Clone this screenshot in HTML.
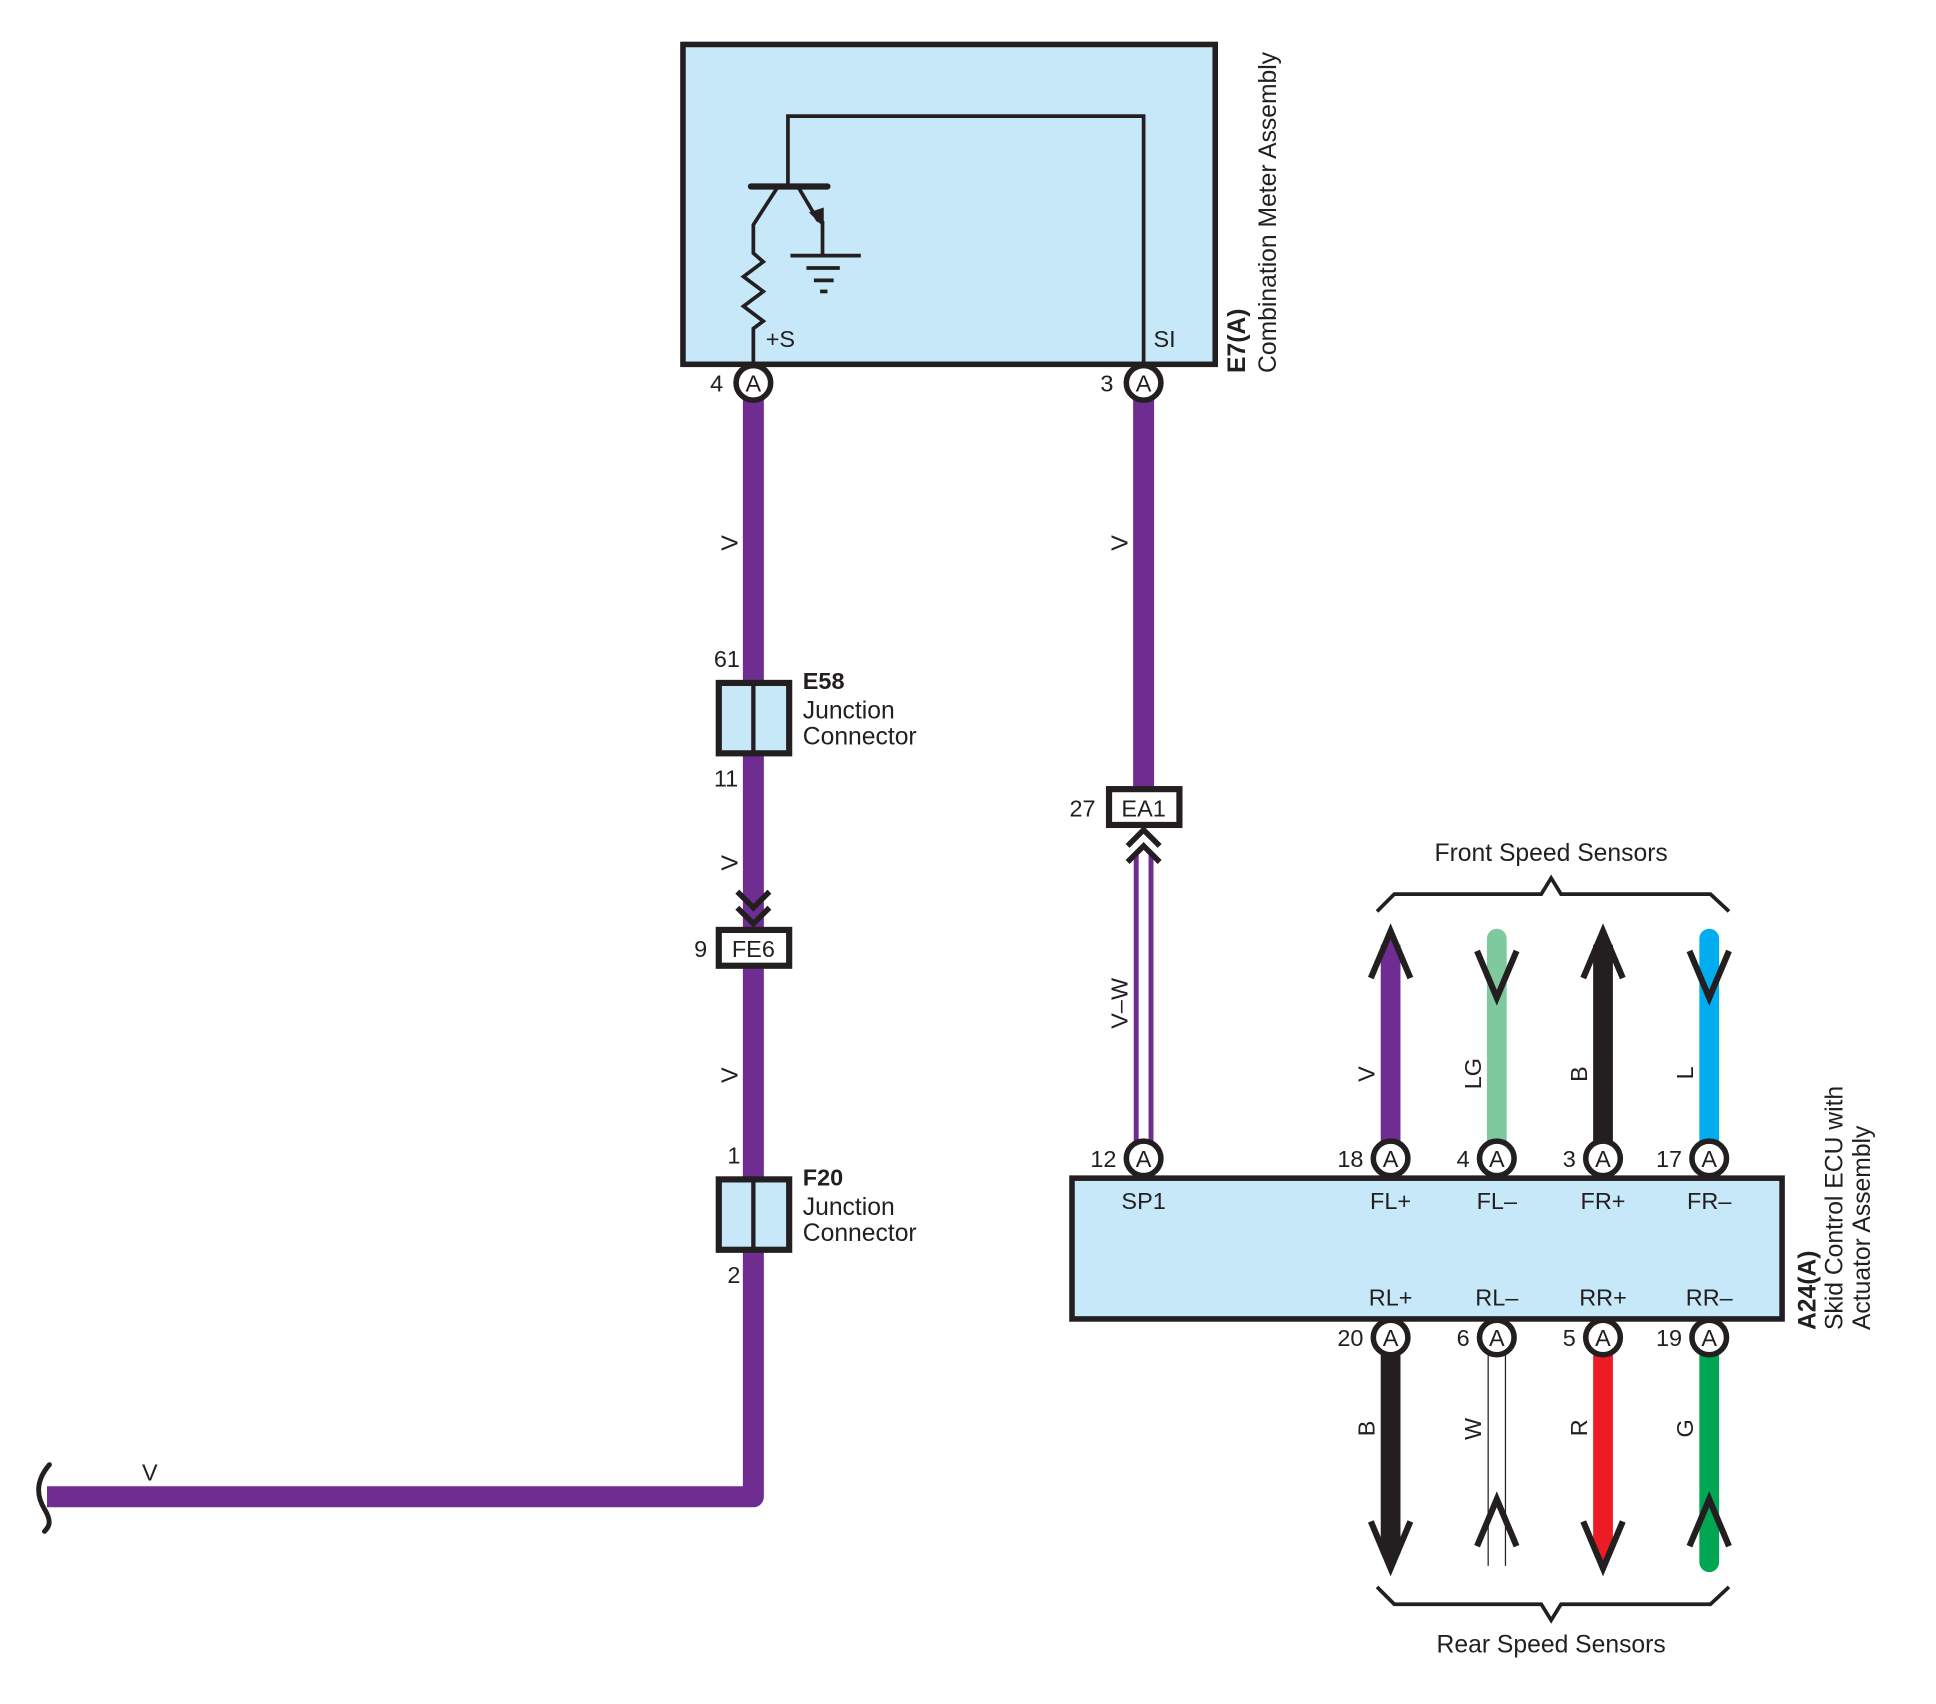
<!DOCTYPE html>
<html><head><meta charset="utf-8"><style>
html,body{margin:0;padding:0;background:#fff;}
svg{display:block;}
text{font-family:"Liberation Sans",sans-serif;fill:#231f20;}
</style></head><body>
<svg width="1936" height="1704" viewBox="0 0 1567.6 1379.8" xmlns="http://www.w3.org/2000/svg">
<g font-size="20">
<!-- Meter box -->
<rect x="553" y="36" width="431" height="259" fill="#c7e8f9" stroke="#231f20" stroke-width="4.5"/>
<polyline points="638,151 638,94 926,94 926,295" fill="none" stroke="#231f20" stroke-width="3"/>
<line x1="608" y1="151" x2="670" y2="151" stroke="#231f20" stroke-width="5" stroke-linecap="round"/>
<polyline points="630,151 610,182 610,205 618,212 602,224 618,236 602,248 618,260 610,266 610,295" fill="none" stroke="#231f20" stroke-width="3"/>
<polyline points="646,151 662,178 666,180 666,207" fill="none" stroke="#231f20" stroke-width="3"/>
<polygon points="655,172 667,168 667,184" fill="#231f20"/>
<line x1="640" y1="207" x2="697" y2="207" stroke="#231f20" stroke-width="3"/>
<line x1="653" y1="217" x2="680" y2="217" stroke="#231f20" stroke-width="3"/>
<line x1="659" y1="227" x2="675" y2="227" stroke="#231f20" stroke-width="3"/>
<line x1="664" y1="236" x2="670" y2="236" stroke="#231f20" stroke-width="3"/>
<text x="620" y="281" font-size="19">+S</text>
<text x="934" y="281" font-size="19">SI</text>
<text transform="translate(1008,302) rotate(-90)" font-weight="bold" font-size="20">E7(A)</text>
<text transform="translate(1033,302) rotate(-90)" font-size="20">Combination Meter Assembly</text>

<!-- Purple left wire -->
<path d="M610,323 V1212 H38" fill="none" stroke="#6f2c91" stroke-width="17" stroke-linejoin="round"/>
<path d="M40,1186 C28,1200 30,1212 36,1222 C42,1232 40,1236 36,1240" fill="none" stroke="#231f20" stroke-width="4" stroke-linecap="round"/>
<text x="115" y="1199" font-size="19">V</text>

<!-- right wire -->
<line x1="926" y1="323" x2="926" y2="640" stroke="#6f2c91" stroke-width="17"/>
<line x1="920" y1="690" x2="920" y2="925" stroke="#6f2c91" stroke-width="4"/>
<line x1="932" y1="690" x2="932" y2="925" stroke="#6f2c91" stroke-width="4"/>

<!-- connector circles meter -->
<g stroke="#231f20" stroke-width="4.5" fill="#fff">
<circle cx="610" cy="310" r="14"/><circle cx="926" cy="310" r="14"/>
</g>
<text x="610" y="317" text-anchor="middle" font-size="19">A</text>
<text x="926" y="317" text-anchor="middle" font-size="19">A</text>
<text x="575" y="317" font-size="19">4</text>
<text x="891" y="317" font-size="19">3</text>

<!-- V labels rotated -->
<text transform="translate(597,446) rotate(-90)" font-size="19">V</text>
<text transform="translate(913,446) rotate(-90)" font-size="19">V</text>
<text transform="translate(597,705) rotate(-90)" font-size="19">V</text>
<text transform="translate(597,877) rotate(-90)" font-size="19">V</text>
<text transform="translate(913,833) rotate(-90)" font-size="19">V–W</text>

<!-- E58 -->
<rect x="582" y="553" width="57" height="57" fill="#c7e8f9" stroke="#231f20" stroke-width="5"/>
<line x1="610" y1="553" x2="610" y2="610" stroke="#231f20" stroke-width="3.5"/>
<text x="578" y="540" font-size="19">61</text>
<text x="578" y="637" font-size="19">11</text>
<text x="650" y="558" font-weight="bold" font-size="19">E58</text>
<text x="650" y="582" font-size="20">Junction</text>
<text x="650" y="603" font-size="20">Connector</text>

<!-- FE6 -->
<polyline points="597,722 610,735 623,722" fill="none" stroke="#231f20" stroke-width="4.5"/>
<polyline points="597,735 610,748 623,735" fill="none" stroke="#231f20" stroke-width="4.5"/>
<rect x="582" y="753" width="57" height="29" fill="#fff" stroke="#231f20" stroke-width="5"/>
<text x="610" y="775" text-anchor="middle" font-size="19">FE6</text>
<text x="562" y="775" font-size="19">9</text>

<!-- F20 -->
<rect x="582" y="955" width="57" height="57" fill="#c7e8f9" stroke="#231f20" stroke-width="5"/>
<line x1="610" y1="955" x2="610" y2="1012" stroke="#231f20" stroke-width="3.5"/>
<text x="589" y="942" font-size="19">1</text>
<text x="589" y="1039" font-size="19">2</text>
<text x="650" y="960" font-weight="bold" font-size="19">F20</text>
<text x="650" y="984" font-size="20">Junction</text>
<text x="650" y="1005" font-size="20">Connector</text>

<!-- EA1 -->
<rect x="898" y="639" width="57" height="29" fill="#fff" stroke="#231f20" stroke-width="5"/>
<text x="926" y="661" text-anchor="middle" font-size="19">EA1</text>
<text x="866" y="661" font-size="19">27</text>
<polyline points="913,685 926,672 939,685" fill="none" stroke="#231f20" stroke-width="4.5"/>
<polyline points="913,698 926,685 939,698" fill="none" stroke="#231f20" stroke-width="4.5"/>

<!-- top sensor wires -->
<line x1="1126" y1="925" x2="1126" y2="765" stroke="#6f2c91" stroke-width="16"/>
<line x1="1212" y1="925" x2="1212" y2="760" stroke="#7fc99e" stroke-width="16" stroke-linecap="round"/>
<line x1="1298" y1="925" x2="1298" y2="765" stroke="#231f20" stroke-width="16"/>
<line x1="1384" y1="925" x2="1384" y2="760" stroke="#00aeef" stroke-width="16" stroke-linecap="round"/>
<polygon points="1126,754 1134,772 1118,772" fill="#6f2c91"/>
<polygon points="1298,754 1306,772 1290,772" fill="#231f20"/>
<g fill="none" stroke="#231f20" stroke-width="5" stroke-linejoin="miter">
<polyline points="1110,792 1126,754 1142,792"/>
<polyline points="1282,792 1298,754 1314,792"/>
<polyline points="1196,770 1212,808 1228,770"/>
<polyline points="1368,770 1384,808 1400,770"/>
</g>
<text transform="translate(1113,876) rotate(-90)" font-size="19">V</text>
<text transform="translate(1199,882) rotate(-90)" font-size="19">LG</text>
<text transform="translate(1285,876) rotate(-90)" font-size="19">B</text>
<text transform="translate(1371,874) rotate(-90)" font-size="19">L</text>

<!-- bottom sensor wires -->
<line x1="1126" y1="1095" x2="1126" y2="1258" stroke="#231f20" stroke-width="16"/>
<polygon points="1116,1250 1136,1250 1126,1270" fill="#231f20"/>
<line x1="1205" y1="1095" x2="1205" y2="1268" stroke="#231f20" stroke-width="1"/>
<line x1="1219" y1="1095" x2="1219" y2="1268" stroke="#231f20" stroke-width="1"/>
<line x1="1298" y1="1095" x2="1298" y2="1258" stroke="#ed1c24" stroke-width="16"/>
<polygon points="1288,1250 1308,1250 1298,1270" fill="#ed1c24"/>
<line x1="1384" y1="1095" x2="1384" y2="1265" stroke="#00a651" stroke-width="16" stroke-linecap="round"/>
<g fill="none" stroke="#231f20" stroke-width="5">
<polyline points="1110,1232 1126,1270 1142,1232"/>
<polyline points="1282,1232 1298,1270 1314,1232"/>
<polyline points="1196,1252 1212,1214 1228,1252"/>
<polyline points="1368,1252 1384,1214 1400,1252"/>
</g>
<text transform="translate(1113,1163) rotate(-90)" font-size="19">B</text>
<text transform="translate(1199,1166) rotate(-90)" font-size="19">W</text>
<text transform="translate(1285,1163) rotate(-90)" font-size="19">R</text>
<text transform="translate(1371,1164) rotate(-90)" font-size="19">G</text>

<!-- ECU box -->
<rect x="868" y="954" width="575" height="114" fill="#c7e8f9" stroke="#231f20" stroke-width="4.5"/>
<g stroke="#231f20" stroke-width="4.5" fill="#fff">
<circle cx="926" cy="938" r="14"/><circle cx="1126" cy="938" r="14"/><circle cx="1212" cy="938" r="14"/><circle cx="1298" cy="938" r="14"/><circle cx="1384" cy="938" r="14"/>
<circle cx="1126" cy="1083" r="14"/><circle cx="1212" cy="1083" r="14"/><circle cx="1298" cy="1083" r="14"/><circle cx="1384" cy="1083" r="14"/>
</g>
<g text-anchor="middle" font-size="19">
<text x="926" y="945">A</text><text x="1126" y="945">A</text><text x="1212" y="945">A</text><text x="1298" y="945">A</text><text x="1384" y="945">A</text>
<text x="1126" y="1090">A</text><text x="1212" y="1090">A</text><text x="1298" y="1090">A</text><text x="1384" y="1090">A</text>
<text x="926" y="979">SP1</text><text x="1126" y="979">FL+</text><text x="1212" y="979">FL–</text><text x="1298" y="979">FR+</text><text x="1384" y="979">FR–</text>
<text x="1126" y="1057">RL+</text><text x="1212" y="1057">RL–</text><text x="1298" y="1057">RR+</text><text x="1384" y="1057">RR–</text>
</g>
<g text-anchor="end" font-size="19">
<text x="904" y="945">12</text><text x="1104" y="945">18</text><text x="1190" y="945">4</text><text x="1276" y="945">3</text><text x="1362" y="945">17</text>
<text x="1104" y="1090">20</text><text x="1190" y="1090">6</text><text x="1276" y="1090">5</text><text x="1362" y="1090">19</text>
</g>
<text transform="translate(1470,1077) rotate(-90)" font-weight="bold" font-size="20">A24(A)</text>
<text transform="translate(1492,1077) rotate(-90)" font-size="20">Skid Control ECU with</text>
<text transform="translate(1514,1077) rotate(-90)" font-size="20">Actuator Assembly</text>

<!-- braces -->
<polyline points="1115,738 1129,724 1248,724 1256,711 1264,724 1385,724 1400,738" fill="none" stroke="#231f20" stroke-width="3"/>
<text x="1256" y="697" text-anchor="middle" font-size="20">Front Speed Sensors</text>
<polyline points="1115,1285 1129,1299 1248,1299 1256,1312 1264,1299 1385,1299 1400,1285" fill="none" stroke="#231f20" stroke-width="3"/>
<text x="1256" y="1338" text-anchor="middle" font-size="20">Rear Speed Sensors</text>
</g>
</svg>
</body></html>
